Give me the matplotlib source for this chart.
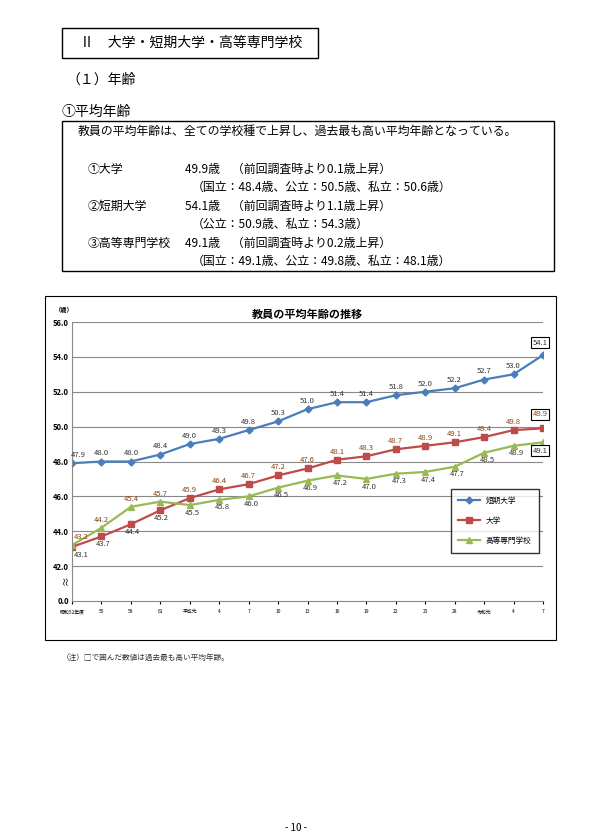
import matplotlib
matplotlib.use("Agg")
import matplotlib.pyplot as plt
from matplotlib.patches import Rectangle

plt.rcParams['font.family'] = ['Noto Sans CJK JP', 'DejaVu Sans']

years = ["昭和52年度", "55", "58", "61", "平成元", "4", "7", "10", "13", "16", "19",
         "22", "25", "28", "令和元", "4", "7"]
junior = [47.9, 48.0, 48.0, 48.4, 49.0, 49.3, 49.8, 50.3, 51.0, 51.4, 51.4, 51.8, 52.0, 52.2, 52.7, 53.0, 54.1]
univ = [43.1, 43.7, 44.4, 45.2, 45.9, 46.4, 46.7, 47.2, 47.6, 48.1, 48.3, 48.7, 48.9, 49.1, 49.4, 49.8, 49.9]
tech = [43.2, 44.2, 45.4, 45.7, 45.5, 45.8, 46.0, 46.5, 46.9, 47.2, 47.0, 47.3, 47.4, 47.7, 48.5, 48.9, 49.1]

W, H = 593, 840
fig = plt.figure(figsize=(W/100, H/100), dpi=100)

def fx(x): return x / W
def fy(y): return 1 - y / H
def txt(x, y, s, **kw):
    fig.text(fx(x), fy(y), s, va='center', **kw)
def rect(x0, y0, x1, y1, lw=1.0):
    fig.patches.append(Rectangle((fx(x0), fy(y1)), fx(x1)-fx(x0), fy(y0)-fy(y1),
                                 transform=fig.transFigure, fill=False, ec='black', lw=lw))

rect(62, 28, 318, 58)
txt(80, 43, "Ⅱ　大学・短期大学・高等専門学校", fontsize=10)
txt(66, 80, "（１）年齢", fontsize=10)
txt(62, 112, "①平均年齢", fontsize=10)
rect(62, 121, 554, 271)
txt(78, 131, "教員の平均年齢は、全ての学校種で上昇し、過去最も高い平均年齢となっている。", fontsize=8.6)
lines = [
    (169, "①大学", "49.9歳　（前回調査時より0.1歳上昇）"),
    (187, "", "（国立：48.4歳、公立：50.5歳、私立：50.6歳）"),
    (206, "②短期大学", "54.1歳　（前回調査時より1.1歳上昇）"),
    (224, "", "（公立：50.9歳、私立：54.3歳）"),
    (243, "③高等専門学校", "49.1歳　（前回調査時より0.2歳上昇）"),
    (261, "", "（国立：49.1歳、公立：49.8歳、私立：48.1歳）"),
]
for y, a, b in lines:
    if a:
        txt(88, y, a, fontsize=8.6)
        txt(185, y, b, fontsize=8.6)
    else:
        txt(192, y, b, fontsize=8.6)

rect(45, 296, 556, 640, lw=0.8)

ax = fig.add_axes([fx(72), fy(601), fx(543)-fx(72), fy(322)-fy(601)])
x = list(range(len(years)))
ax.plot(x, junior, color='#4a7ebb', marker='D', ms=3.5, lw=1.6, label='短期大学')
ax.plot(x, univ, color='#be4b48', marker='s', ms=5, lw=1.6, label='大学')
ax.plot(x, tech, color='#98b954', marker='^', ms=5, lw=1.6, label='高等専門学校')
ax.set_xlim(0, len(years)-1)
ax.set_ylim(40, 56)
ax.set_yticks([40, 42, 44, 46, 48, 50, 52, 54, 56])
ax.set_yticklabels(["0.0"] + [f"{v:.1f}" for v in range(42, 57, 2)], fontsize=5.5, fontweight='bold')
ax.set_xticks(x)
ax.set_xticklabels(years, fontsize=3.5)
ax.tick_params(axis='x', length=2, pad=4)
ax.tick_params(axis='y', length=0, pad=2)
for v in range(42, 57, 2):
    ax.axhline(v, color='#888888', lw=0.8, zorder=0)
for s in ['top', 'right']:
    ax.spines[s].set_visible(False)
ax.spines['left'].set_color('#888888')
ax.spines['bottom'].set_color('#888888')
ax.text(-0.2, 41.2, "≈", fontsize=7, rotation=90, ha='center', va='center')
ax.text(-0.25, 56.6, "（歳）", fontsize=4.5, ha='center', fontweight='bold')
ax.set_title("教員の平均年齢の推移", fontsize=8, fontweight='bold', pad=3)

lc = '#333333'
fs = 5.5
n = len(years)
for i, v in enumerate(junior):
    if i == n-1:
        ax.text(i-0.1, v+0.6, f"{v:.1f}", fontsize=fs, ha='center', color=lc,
                bbox=dict(boxstyle='square,pad=0.2', fc='white', ec='black', lw=0.8))
    else:
        ax.text(i+(0.2 if i == 0 else 0), v+0.35, f"{v:.1f}", fontsize=fs, ha='center', color=lc)
for i, v in enumerate(univ):
    if i == n-1:
        ax.text(i-0.1, v+0.7, f"{v:.1f}", fontsize=fs, ha='center', color='#8B4513',
                bbox=dict(boxstyle='square,pad=0.2', fc='white', ec='black', lw=0.8))
    elif i <= 3:
        ax.text(i+(0.3 if i == 0 else 0.05), v-0.55, f"{v:.1f}", fontsize=fs, ha='center', color=lc)
    else:
        ax.text(i, v+0.35, f"{v:.1f}", fontsize=fs, ha='center', color='#8B4513')
for i, v in enumerate(tech):
    if i == n-1:
        ax.text(i-0.1, v-0.6, f"{v:.1f}", fontsize=fs, ha='center', color=lc,
                bbox=dict(boxstyle='square,pad=0.2', fc='white', ec='black', lw=0.8))
    elif i <= 3:
        ax.text(i+(0.3 if i == 0 else 0), v+0.35, f"{v:.1f}", fontsize=fs, ha='center', color='#8B4513')
    else:
        ax.text(i+0.1, v-0.55, f"{v:.1f}", fontsize=fs, ha='center', color=lc)

leg = ax.legend(loc='lower right', bbox_to_anchor=(1.0, 0.16), fontsize=5.5, frameon=True,
                fancybox=False, edgecolor='black', handlelength=2.8, labelspacing=1.6,
                borderpad=1.0)
leg.get_frame().set_linewidth(1.0)

txt(62, 658, "（注）□で囲んだ数値は過去最も高い平均年齢。", fontsize=5.5, color='#333333')
txt(296, 828, "- 10 -", fontsize=7, ha='center')

fig.savefig("out.png", dpi=100)
